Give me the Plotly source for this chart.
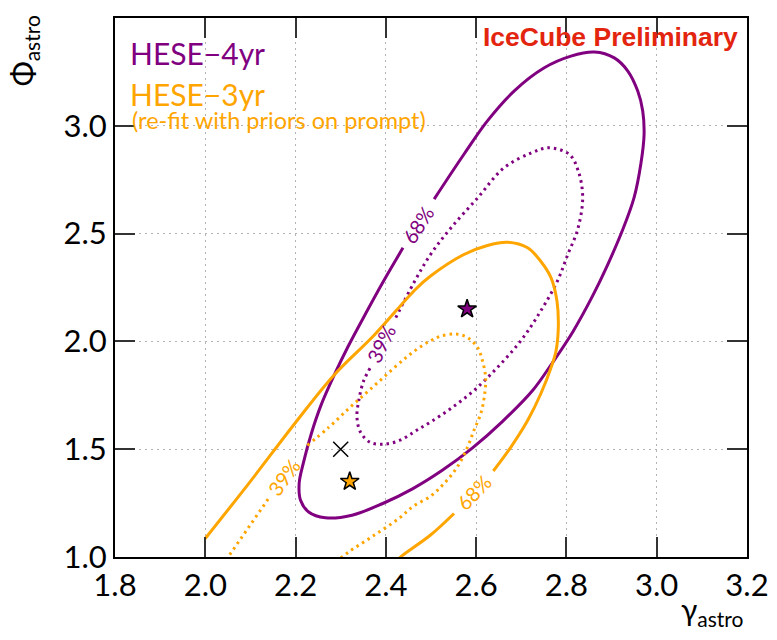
import plotly.graph_objects as go

# ---------------- data ----------------
# HESE-4yr 68% contour (solid, gap left for the label)
p68_x = [2.438, 2.395, 2.355, 2.316, 2.285, 2.256, 2.235, 2.217, 2.208, 2.211, 2.229, 2.266,
         2.325, 2.392, 2.459, 2.525, 2.592, 2.658, 2.725, 2.769, 2.814, 2.858, 2.891, 2.925,
         2.950, 2.965, 2.972, 2.969, 2.958, 2.936, 2.906, 2.862, 2.810, 2.751, 2.684, 2.625,
         2.573, 2.507]
p68_y = [2.434, 2.280, 2.128, 1.975, 1.841, 1.702, 1.573, 1.434, 1.342, 1.263, 1.209, 1.182,
         1.194, 1.247, 1.316, 1.402, 1.506, 1.628, 1.772, 1.901, 2.044, 2.211, 2.354, 2.520,
         2.668, 2.825, 2.959, 3.069, 3.161, 3.254, 3.315, 3.342, 3.323, 3.269, 3.161, 3.023,
         2.868, 2.660]

# HESE-4yr 39% contour (dotted)
p39_x = [2.422, 2.462, 2.499, 2.544, 2.603, 2.661, 2.721, 2.761, 2.806, 2.826, 2.836, 2.825,
         2.803, 2.780, 2.743, 2.699, 2.647, 2.595, 2.544, 2.499, 2.466, 2.433, 2.399, 2.366,
         2.344, 2.336, 2.340, 2.351, 2.366]
p39_y = [2.110, 2.272, 2.403, 2.526, 2.665, 2.804, 2.873, 2.898, 2.868, 2.792, 2.668, 2.520,
         2.403, 2.280, 2.141, 2.003, 1.879, 1.772, 1.689, 1.626, 1.585, 1.543, 1.524, 1.531,
         1.578, 1.647, 1.726, 1.818, 1.879]

# HESE-3yr (re-fit) 68% contour (solid, open at the bottom)
o68_x = [2.000, 2.100, 2.200, 2.284, 2.375, 2.466, 2.499, 2.573, 2.625, 2.670, 2.714, 2.743,
         2.766, 2.779, 2.782, 2.777, 2.766, 2.743, 2.714, 2.677, 2.638, None,
         2.551, 2.499, 2.436, 2.426]
o68_y = [1.086, 1.351, 1.624, 1.841, 2.031, 2.242, 2.303, 2.403, 2.445, 2.460, 2.434, 2.372,
         2.295, 2.188, 2.064, 1.957, 1.879, 1.756, 1.633, 1.510, 1.399, None,
         1.202, 1.102, 1.006, 0.986]

# HESE-3yr (re-fit) 39% contour (dotted, open at the bottom)
o39_x = [2.046, 2.140, None, 2.226, 2.274, 2.318, 2.357, 2.399, 2.444, 2.473, 2.499, 2.521,
         2.555, 2.581, 2.603, 2.614, 2.621, 2.618, 2.610, 2.595, 2.581, 2.558, 2.529, 2.499,
         2.461, 2.429, 2.370, 2.318, 2.295]
o39_y = [0.986, 1.271, None, 1.518, 1.602, 1.689, 1.762, 1.841, 1.924, 1.970, 2.003, 2.024,
         2.034, 2.018, 1.972, 1.910, 1.833, 1.741, 1.664, 1.587, 1.510, 1.417, 1.341, 1.282,
         1.236, 1.179, 1.095, 1.024, 0.986]

# best-fit points
bf4_x, bf4_y = [2.58], [2.15]
bf3_x, bf3_y = [2.32], [1.35]
ref_x, ref_y = [2.30], [1.50]

# contour labels
lab_text = ["68%", "39%", "68%", "39%"]
lab_x = [2.470, 2.388, 2.595, 2.174]
lab_y = [2.542, 1.990, 1.302, 1.371]
lab_ang = [-57, -64, -46, -54]
lab_series = ["p", "p", "o", "o"]

x_ticks = [1.8, 2.0, 2.2, 2.4, 2.6, 2.8, 3.0, 3.2]
y_ticks = [1.0, 1.5, 2.0, 2.5, 3.0, 3.5]

# ---------------- styling ----------------
PURPLE = "#800080"
ORANGE = "#FFA500"
FONT = "Lato"
DOT = "2.5px,4px"
SPL = dict(shape="spline", smoothing=1.0)

fig = go.Figure()
fig.add_trace(go.Scatter(x=p68_x, y=p68_y, mode="lines",
                         line=dict(color=PURPLE, width=3, **SPL), hoverinfo="skip"))
fig.add_trace(go.Scatter(x=p39_x, y=p39_y, mode="lines",
                         line=dict(color=PURPLE, width=3, dash=DOT, **SPL), hoverinfo="skip"))
fig.add_trace(go.Scatter(x=o68_x, y=o68_y, mode="lines", connectgaps=False,
                         line=dict(color=ORANGE, width=3, **SPL), hoverinfo="skip"))
fig.add_trace(go.Scatter(x=o39_x, y=o39_y, mode="lines", connectgaps=False,
                         line=dict(color=ORANGE, width=3, dash=DOT, **SPL), hoverinfo="skip"))
fig.add_trace(go.Scatter(x=bf4_x, y=bf4_y, mode="markers",
                         marker=dict(symbol="star", size=14, color=PURPLE,
                                     line=dict(color="black", width=1.5))))
fig.add_trace(go.Scatter(x=bf3_x, y=bf3_y, mode="markers",
                         marker=dict(symbol="star", size=14, color=ORANGE,
                                     line=dict(color="black", width=1.5))))
fig.add_trace(go.Scatter(x=ref_x, y=ref_y, mode="markers",
                         marker=dict(symbol="x-thin", size=15, color="black",
                                     line=dict(color="black", width=1.5))))

for t, x, y, a, s in zip(lab_text, lab_x, lab_y, lab_ang, lab_series):
    fig.add_annotation(x=x, y=y, text=t, textangle=a, showarrow=False,
                       font=dict(family=FONT, size=20,
                                 color=PURPLE if s == "p" else ORANGE))

axis_common = dict(showline=True, linecolor="black", linewidth=2, mirror="ticks",
                   ticks="inside", ticklen=20, tickwidth=1.5, tickcolor="#333",
                   showgrid=True, gridcolor="#b4b4b4", gridwidth=1, griddash="2px,4px",
                   zeroline=False, tickformat=".1f",
                   tickfont=dict(family=FONT, size=31, color="black"))

fig.update_xaxes(range=[1.8, 3.2], tickvals=x_ticks, **axis_common)
fig.update_yaxes(range=[1.0, 3.5], tickvals=y_ticks, **axis_common)

# texts
fig.add_annotation(xref="paper", yref="paper", x=0.0206, y=0.935, xanchor="left",
                   yanchor="middle", text="HESE−4yr", showarrow=False,
                   font=dict(family=FONT, size=30, color=PURPLE))
fig.add_annotation(xref="paper", yref="paper", x=0.0206, y=0.859, xanchor="left",
                   yanchor="middle", text="HESE−3yr", showarrow=False,
                   font=dict(family=FONT, size=30, color=ORANGE))
fig.add_annotation(xref="paper", yref="paper", x=0.0237, y=0.811, xanchor="left",
                   yanchor="middle", text="(re-fit with priors on prompt)", showarrow=False,
                   font=dict(family=FONT, size=23.5, color=ORANGE))
fig.add_annotation(xref="paper", yref="paper", x=0.989, y=0.9654, xanchor="right",
                   yanchor="middle", text="<b>IceCube Preliminary</b>", showarrow=False,
                   font=dict(family="Liberation Sans", size=26.5, color="#E3250F"))
fig.add_annotation(xref="paper", yref="paper", x=-0.144, y=0.94, xanchor="center",
                   yanchor="middle", text="Φ<sub>astro</sub>", textangle=-90, showarrow=False,
                   font=dict(family=FONT, size=30, color="black"))
fig.add_annotation(xref="paper", yref="paper", x=0.998, y=-0.10, xanchor="right",
                   yanchor="middle", text="γ<sub>astro</sub>", showarrow=False,
                   font=dict(family=FONT, size=30, color="black"))

# page body has an 8px margin: size the figure so the plot frame lands where the reference has it
fig.update_layout(width=769, height=632, showlegend=False,
                  margin=dict(l=107, r=30, t=8, b=83),
                  paper_bgcolor="white", plot_bgcolor="white")

fig.write_html("out.html")
